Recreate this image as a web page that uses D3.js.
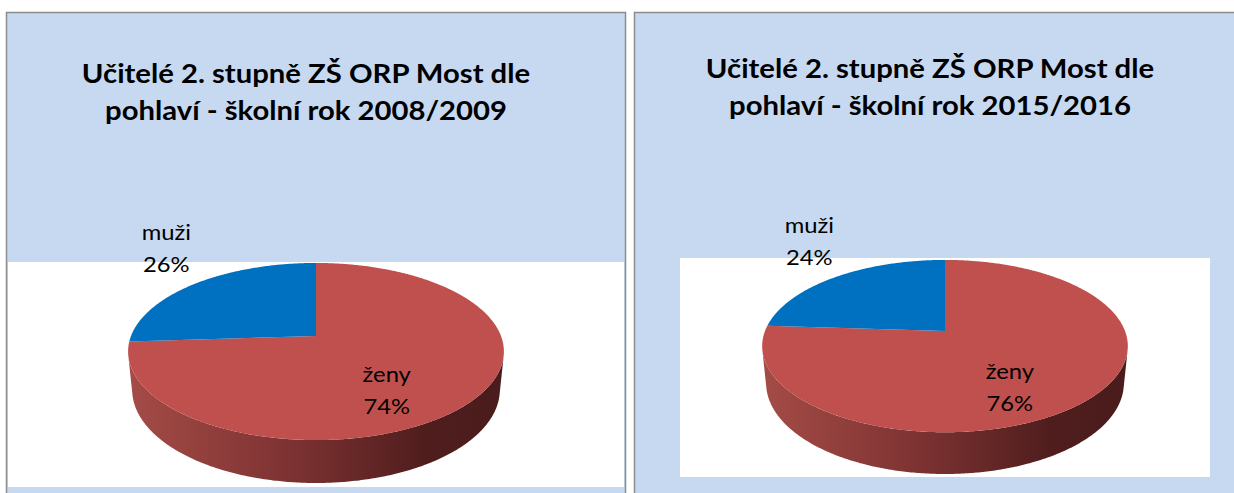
<!DOCTYPE html>
<html>
<head>
<meta charset="utf-8">
<script src="https://cdn.jsdelivr.net/npm/d3@7"></script>
<style>
  body { margin: 0; padding: 0; background: #fff; }
  svg { display: block; }
</style>
</head>
<body>
<div id="chart"></div>
<script>
const width = 1234;
const height = 493;

// data
const categories = ["ženy", "muži"];
const values2008 = [74, 26];
const values2015 = [76, 24];
const titles2008 = ["Učitelé 2. stupně ZŠ ORP Most dle", "pohlaví - školní rok 2008/2009"];
const titles2015 = ["Učitelé 2. stupně ZŠ ORP Most dle", "pohlaví - školní rok 2015/2016"];

const colors = { "ženy": "#c0504d", "muži": "#0070c0" };

// 3d pie camera (radius = 1 units)
const tilt = Math.asin(0.464);
const camDist = Math.cos(tilt) / 0.175;
const depth = 0.2355;

// the original font (Calibri) is narrower than Lato, so text is stretched a little
const titleStretch = 1.125;
const labelStretch = 1.08;

const svg = d3.select("#chart")
  .append("svg")
  .attr("width", width)
  .attr("height", height);

const defs = svg.append("defs");

const panels = [
  { id: "p1", x: 6.5, w: 619, titles: titles2008, values: values2008, titleX: 306, titleY: 83,
    plot: { x: 8, y: 262, w: 616, h: 225 }, cx: 316, cy: 336, A: 185 },
  { id: "p2", x: 634.5, w: 640, titles: titles2015, values: values2015, titleX: 930, titleY: 78,
    plot: { x: 680, y: 258, w: 530, h: 219 }, cx: 945, cy: 331, A: 180 }
];

const pie = d3.pie().sort(null).value(d => d.value);

function stretch(sel, k) {
  sel.each(function () {
    const len = this.getComputedTextLength();
    d3.select(this)
      .attr("textLength", len * k)
      .attr("lengthAdjust", "spacingAndGlyphs");
  });
}

panels.forEach(function (p) {
  const g = svg.append("g");

  // chart area
  g.append("rect")
    .attr("x", p.x)
    .attr("y", 12.5)
    .attr("width", p.w)
    .attr("height", 520)
    .attr("fill", "#c6d9f1")
    .attr("stroke", "#8c8c8c")
    .attr("stroke-width", 1.5);

  // plot area
  g.append("rect")
    .attr("x", p.plot.x)
    .attr("y", p.plot.y)
    .attr("width", p.plot.w)
    .attr("height", p.plot.h)
    .attr("fill", "#ffffff");

  // title
  g.selectAll(".title")
    .data(p.titles)
    .enter()
    .append("text")
    .attr("class", "title")
    .attr("x", p.titleX)
    .attr("y", (d, i) => p.titleY + i * 37)
    .attr("text-anchor", "middle")
    .style("font-family", "Lato, sans-serif")
    .style("font-weight", "bold")
    .style("font-size", "26px")
    .style("fill", "#000")
    .text(d => d)
    .call(stretch, titleStretch);

  // projection of a point on the pie (angle in d3 convention, r radius fraction, y height)
  function proj(angle, r, y) {
    const x = Math.sin(angle) * r;
    const z = -Math.cos(angle) * r;
    const v = z * Math.sin(tilt) - y * Math.cos(tilt);
    const dep = camDist - z * Math.cos(tilt) - y * Math.sin(tilt);
    const s = p.A * camDist;
    return [p.cx + s * x / dep, p.cy + s * v / dep];
  }

  function arcPoints(a0, a1, r, y) {
    const n = Math.max(2, Math.ceil(Math.abs(a1 - a0) / 0.01));
    return d3.range(n + 1).map(i => proj(a0 + (a1 - a0) * i / n, r, y));
  }

  const slices = pie(categories.map((c, i) => ({ name: c, value: p.values[i] })));

  // side shading
  const grad = defs.append("linearGradient")
    .attr("id", "side-" + p.id)
    .attr("gradientUnits", "userSpaceOnUse")
    .attr("x1", p.cx - p.A)
    .attr("x2", p.cx + p.A)
    .attr("y1", 0)
    .attr("y2", 0);
  const stops = [[0, "#a44b46"], [0.45, "#7b3131"], [0.8, "#4f1d1d"], [1, "#4b1c1c"]];
  grad.selectAll("stop")
    .data(stops)
    .enter()
    .append("stop")
    .attr("offset", d => d[0])
    .attr("stop-color", d => d[1]);

  // visible part of the wall: outward normal faces the camera
  const zMin = 1 / (camDist * Math.cos(tilt));
  const vis0 = Math.acos(-zMin);
  const vis1 = 2 * Math.PI - vis0;

  const line = d3.line();

  slices.forEach(function (s) {
    const a0 = Math.max(s.startAngle, vis0);
    const a1 = Math.min(s.endAngle, vis1);
    if (a1 <= a0) return;
    const top = arcPoints(a0, a1, 1, 0);
    const bottom = arcPoints(a1, a0, 1, -depth);
    const fill = s.data.name === "ženy" ? "url(#side-" + p.id + ")" : d3.color(colors[s.data.name]).darker(1.2);
    g.append("path")
      .attr("d", line(top.concat(bottom)) + "Z")
      .attr("fill", fill);
  });

  // top faces
  slices.forEach(function (s) {
    const pts = [proj(0, 0, 0)].concat(arcPoints(s.startAngle, s.endAngle, 1, 0));
    g.append("path")
      .attr("d", line(pts) + "Z")
      .attr("fill", colors[s.data.name]);
  });

  // data labels
  slices.forEach(function (s) {
    const mid = (s.startAngle + s.endAngle) / 2;
    const inside = s.data.name === "ženy";
    const pt = proj(mid, inside ? 0.5 : 1.27, 0);
    const base = inside ? pt[1] + 15 : pt[1] - 31;
    const pct = Math.round(s.data.value / d3.sum(p.values) * 100) + "%";
    g.selectAll(null)
      .data([s.data.name, pct])
      .enter()
      .append("text")
      .attr("x", pt[0] - 1)
      .attr("y", (d, i) => base + i * 32)
      .attr("text-anchor", "middle")
      .style("font-family", "Lato, sans-serif")
      .style("font-size", "22px")
      .style("fill", "#000")
      .text(d => d)
      .call(stretch, labelStretch);
  });
});
</script>
</body>
</html>
